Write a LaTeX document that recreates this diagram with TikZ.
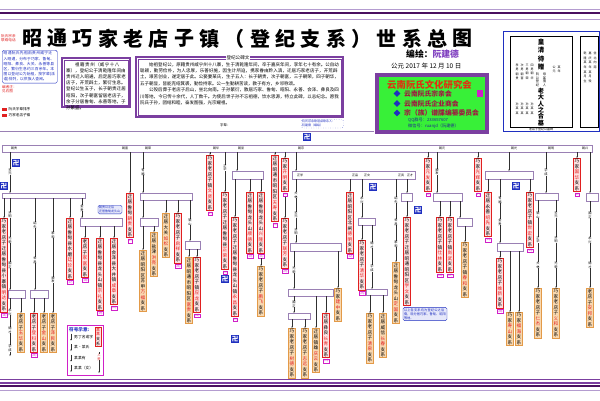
\documentclass[tikz,border=0pt]{standalone}
\usepackage{fontspec}
\setmainfont{Noto Sans CJK SC}
\usetikzlibrary{arrows.meta,shapes.geometric}
\XeTeXlinebreaklocale "zh"
\XeTeXlinebreakskip=0pt plus 0.6pt
\definecolor{dpur}{HTML}{4A1060}
\definecolor{purc}{HTML}{7B3FA0}
\definecolor{lavc}{HTML}{B49CD0}
\definecolor{barc}{HTML}{9A80B4}
\definecolor{redc}{HTML}{E02020}
\definecolor{pinkc}{HTML}{FDE0E0}
\definecolor{tanc}{HTML}{E39A48}
\definecolor{tanf}{HTML}{F8D8B0}
\definecolor{magc}{HTML}{D020C8}
\definecolor{linec}{HTML}{303030}
\definecolor{bluec}{HTML}{1F2FC0}
\definecolor{navc}{HTML}{202A8C}
\definecolor{greenc}{HTML}{38F038}
\definecolor{authc}{HTML}{8040C0}
\definecolor{itemc}{HTML}{A01840}
\definecolor{headc}{HTML}{E03010}
\definecolor{lblue}{HTML}{E6E8FA}
\tikzset{
  bar/.style={draw=barc, fill=white, line width=0.5pt},
  rb/.style={draw=redc, fill=pinkc, line width=0.8pt, text width=4.7pt, align=center,
    inner sep=0.9pt, font=\fontsize{4.6}{5.5}\selectfont, anchor=north},
  tb/.style={rb, draw=tanc, fill=tanf},
  lb/.style={draw=magc, text=magc, font=\fontsize{3}{3.2}\selectfont, inner sep=0.4pt, anchor=north},
  ln/.style={draw=linec, line width=0.4pt, -{Stealth[length=1.6pt,width=1.4pt]}},
  gl/.style={fill=white, inner sep=0.2pt, font=\fontsize{3.2}{3.6}\selectfont, text width=3.4pt, align=center},
  bt/.style={inner sep=0, font=\fontsize{3}{3}\selectfont},
  bsqs/.style={fill=bluec, text=white, font=\fontsize{6.5}{6.5}\selectfont\bfseries, minimum size=8pt, inner sep=0},
  bbox/.style={draw=bluec, fill=lblue, rounded corners=1.5pt, text=bluec, inner sep=1pt, align=left}
}
\newcommand\rname[1]{\allowbreak\textcolor{redc}{#1}\allowbreak}
\newcommand\zx[2]{#1\rname{#2}支系}
\newcommand\rbx[5]{\node[rb] (#1) at (#2,#3) {#4};\node[lb] (#1l) at ([yshift=-0.5pt]#1.south) {#5};}
\newcommand\tbx[4]{\node[tb] (#1) at (#2,#3) {#4};}
\newcommand\barx[4]{\draw[bar] (#1,#2) rectangle (#3,#4);}
\newcommand\gen[3]{\node[gl] at (#1,#2) {#3};}
\newcommand\conn[3]{\draw[ln] (#1,#2) -- (#3.north);}
\newcommand\vseg[3]{\draw[ln] (#1,#2) -- (#1,#3);}
\newcommand\bsq[2]{\node[bsqs] at (#1,#2) {卍};}
\newcommand\vtext[6]{\node[inner sep=0, anchor=north, text width=#4, align=center, font=\fontsize{#3}{#5}\selectfont, #6] at (#1) {#2};}
\begin{document}
\begin{tikzpicture}[x=1pt,y=-1pt]
\fill[white] (0,0) rectangle (600,400);
\useasboundingbox (0,0) rectangle (600,400);
% borders
\draw[lavc, line width=0.6pt] (0,9) -- (600,9);
\draw[dpur, line width=2.2pt] (0,13) -- (600,13);
\draw[lavc, line width=0.5pt] (0,19.5) -- (600,19.5);
\draw[purc, line width=0.6pt] (0,379) -- (600,379);
\draw[purc, line width=1.4pt] (0,383) -- (600,383);
\draw[dpur, line width=1.8pt] (0,386) -- (600,386);
\draw[lavc, line width=0.5pt] (0,390) -- (600,390);
\draw[barc, line width=0.5pt] (0,131) -- (374,131);
% title
\foreach \c [count=\i from 0] in {昭,通,巧,家,老,店,子,镇,（,登,纪,支,系,）,世,系,总,图}
  \node[inner sep=0, font=\fontsize{20}{20}\selectfont\bfseries] (t\i) at (32+\i*25.35,38.5) {\c};
\node[anchor=west, inner sep=0, font=\fontsize{8.8}{9}\selectfont\bfseries] (auth) at (406,54) {编绘：\textcolor{authc}{阮建德}};
\node[anchor=west, inner sep=0, font=\fontsize{6.5}{7}\selectfont] (date) at (391,66.5) {公元 2017 年 12 月 10 日};
% top-left notes
\node[anchor=north west, inner sep=0, text=redc, font=\fontsize{3.6}{4.6}\selectfont, align=left] (tl1) at (1,34) {阮氏宗亲\\联络电话};
\node[bbox, fill=white, anchor=north west, text width=52pt, font=\fontsize{3.8}{5.2}\selectfont, inner sep=1.5pt] (lbox) at (2,50) {昭通阮氏先祖由贵州威宁迁入昭通，分布于巧家、鲁甸、昭阳、彝良、大关、永善等县区，繁衍生息约三百余年。本图以登纪公为始祖，按字辈(派语)排列，以供族人查阅。};
\node[anchor=north west, inner sep=0, text=redc, font=\fontsize{3.6}{4.6}\selectfont, align=left] (tl2) at (2,85) {编者注：\\见右图};
\fill[redc] (2,107.5) rectangle (7,110.5);
\node[anchor=west, inner sep=0, font=\fontsize{3.6}{4}\selectfont] (lg1) at (8.5,109) {阮氏字辈排序};
\fill[redc] (2,113.5) rectangle (7,116.5);
\node[anchor=west, inner sep=0, font=\fontsize{3.6}{4}\selectfont] (lg2) at (8.5,115) {巧家老店子镇};
% text box 1
\draw[purc, line width=1.1pt] (62,58) rectangle (130,107);
\draw[purc, line width=0.3pt] (64,60) rectangle (128,105);
\node[anchor=north west, inner sep=0, text width=61pt, font=\fontsize{4.5}{6.2}\selectfont] (tx1) at (66,62) {\hspace{2em}祖籍贵州（威宁十八寨），登纪公于清乾隆年间由贵州迁入昭通，后定居巧家老店子，开荒辟土，繁衍生息。登纪公生五子，长子朝贵迁居昭阳，次子朝富留居老店子，余子分居鲁甸、永善等地，子孙繁盛。};
% text box 2
\draw[purc, line width=1.1pt] (136,57) rectangle (343,117);
\draw[purc, line width=0.3pt] (138,59) rectangle (341,115);
\node[fill=white, inner sep=0.6pt, font=\fontsize{4.6}{5}\selectfont] (bwt) at (238,57.5) {登纪公碑文};
\node[anchor=north west, inner sep=0, text width=199pt, font=\fontsize{4.5}{6.4}\selectfont] (tx2) at (140,62) {\hspace{2em}始祖登纪公，原籍贵州威宁州十八寨，生于清乾隆年间，卒于嘉庆年间，享年七十有余。公自幼聪颖，勤劳俭朴，为人忠厚，乐善好施，因生计所迫，携家眷由黔入滇，迁居巧家老店子，开荒辟土，艰苦创业，遂定居于此。公娶妻某氏，生子五人：长子朝贵，次子朝富，三子朝荣，四子朝华，五子朝显，皆能克绍箕裘，勤俭持家。公一生勤耕苦读，教子有方，乡邻称颂。\par\hspace{2em}公殁后葬于老店子后山，坐北向南。子孙繁衍，散居巧家、鲁甸、昭阳、永善、会泽、彝良及四川等地，今已传十余代，人丁数千。为使后世子孙不忘祖德，饮水思源，特立此碑，以志纪念。愿我阮氏子孙，团结和睦，奋发图强，光宗耀祖。};
\node[anchor=west, inner sep=0, font=\fontsize{3.4}{4}\selectfont] (zb) at (220,125) {字辈：};
\node[bbox, fill=white, dotted, anchor=north west, text width=40pt, font=\fontsize{3}{4}\selectfont] (qbox) at (301,119) {阮氏宗亲联谊会联系人：\\阮建德（编绘）};
% green box
\fill[purc] (375,73) rectangle (489,134);
\fill[greenc] (379,77) rectangle (485,130);
\node[inner sep=0, text=headc, font=\fontsize{9.4}{10}\selectfont\bfseries] (gh) at (429.5,85) {云南阮氏文化研究会};
\foreach \yy/\tt [count=\k] in {93.5/云南阮氏宗亲会,103.5/云南阮氏企业商会,113/宗（族）谱牒编纂委员会}{
  \node[diamond, fill=bluec, inner sep=1.7pt] (gd\k) at (397,\yy) {};
  \node[anchor=west, inner sep=0, text=itemc, font=\fontsize{6.8}{7}\selectfont\bfseries] (gi\k) at (404,\yy) {\tt};}
\node[anchor=west, inner sep=0, text=navc, font=\fontsize{4.2}{4.5}\selectfont] (qq) at (408,120.5) {QQ群号：233657607};
\node[anchor=west, inner sep=0, text=navc, font=\fontsize{4.2}{4.5}\selectfont] (wx) at (408,126.3) {微信号：ruanjd（阮建德）};
\fill[magc] (477,90) rectangle (483,97);
% right box
\draw[bluec, line width=0.9pt] (503,31) rectangle (599,131);
\draw[black, line width=0.4pt] (510,36) rectangle (572,127);
\draw[black, line width=0.4pt] (580,36) rectangle (598.3,127);
\vtext{541,39}{\bfseries 皇清待赠}{6.5}{6.8pt}{8.2}{}
\vtext{537.5,73}{阮公登纪}{3.2}{3.4pt}{3.6}{}
\vtext{544.5,73}{母某孺人}{3.2}{3.4pt}{3.6}{}
\vtext{541,88}{\bfseries 老大人之合墓}{6.2}{6.5pt}{6.3}{}
\foreach \xx/\tt in {517/孝男朝贵,522/次男朝富,527/三男朝荣,532/四男朝华}{\vtext{\xx,64}{\tt}{3}{3.2pt}{4.2}{}}
\foreach \xx/\tt in {517/孙某某,522/孙某某,527/孙某某,532/孙某某}{\vtext{\xx,103}{\tt}{3}{3.2pt}{4.2}{}}
\foreach \xx/\tt in {554/公元,559/某年}{\vtext{\xx,66}{\tt}{3}{3.2pt}{4.2}{}}
\foreach \xx/\tt in {585/乾隆某年某月生,590/嘉庆某年某月殁,595/坐北向南}{\vtext{\xx,52}{\tt}{3}{3.2pt}{4.6}{}}
\node[inner sep=0, font=\fontsize{3}{3}\selectfont] (mb) at (541,129.3) {老店子登纪公墓碑};
% ================= tree =================
\barx{2}{145}{592}{152}
\barx{232}{171}{263}{179}
\barx{292}{171}{415}{179}
\barx{485}{171}{533}{179}
\barx{2}{193}{85}{198}
\barx{140}{193}{192}{200}
\barx{80}{218}{122}{226}
\barx{140}{218}{158}{226}
\barx{185}{241}{200}{249}
\barx{8}{290}{25}{298}
\barx{30}{290}{48}{298}
\barx{290}{243}{341}{251}
\barx{358}{218}{375}{225}
\barx{401}{193}{412}{201}
\barx{433}{193}{462}{201}
\barx{457}{218}{472}{226}
\barx{535}{193}{558}{200}
\barx{497}{243}{523}{251}
\barx{586}{193}{598}{201}
\barx{288}{289}{333}{296}
\barx{288}{313}{310}{319}
\barx{366}{289}{387}{295}
\foreach \xx/\tt in {14/朝贵,125/朝富,148/朝荣,216/朝华,241/朝显,301/朝宗,442/朝元,514/朝光,551/朝明,585/朝兴}{\node[bt] at (\xx,148.5) {\tt};}
\foreach \xx/\tt in {300/正学,355/正品,367/正文,401/正武,410/正才}{\node[bt] at (\xx,175) {\tt};}
% drops from top bar
\vseg{10}{152}{193}
\bsq{16}{163}
\bsq{4}{186}
\rbx{r01}{130}{193}{\zx{迁居鲁甸}{朝贵}}{(1)}\conn{130}{152}{r01}
\vseg{143}{152}{193}
\rbx{r02}{210}{155}{\zx{巧家老店子镇}{文贤}}{(2)}\conn{210}{152}{r02}
\rbx{r03}{225}{192}{\zx{巧家老店子迁居鲁甸县}{正荣}}{(3)}\conn{225}{152}{r03}
\bsq{225}{279}
\vseg{237}{152}{171}
\rbx{r04}{275}{155}{\zx{迁居昭通市昭阳区}{天寿}}{(4)}\conn{275}{152}{r04}
\rbx{r05}{285}{158}{\zx{巧家}{开明}}{(5)}\conn{285}{152}{r05}
\rbx{r29}{285}{218}{\zx{巧家老店子}{联芳}}{(29)}\draw[ln] (r05l.south) -- (r29.north);
\vseg{296}{152}{171}
\rbx{r06}{428}{158}{\zx{巧家}{元发}}{(6)}\conn{428}{152}{r06}
\rbx{r07}{478}{158}{\zx{巧家}{光辉}}{(7)}\conn{478}{152}{r07}
\rbx{r08}{577}{158}{\zx{巧家}{国华}}{(8)}\conn{577}{152}{r08}
\vseg{437}{152}{193}
\vseg{509}{152}{171}
\vseg{546}{152}{193}
\vseg{590}{152}{193}
\bsq{307}{137}
% B3
\rbx{r09}{235}{217}{\zx{巧家老店子迁居鲁甸县龙头山镇}{永昌}}{(9)}\conn{235}{179}{r09}
\bsq{235}{339}
\rbx{r10}{250}{192}{\zx{迁居鲁甸龙头山}{顺德}}{(10)}\conn{250}{179}{r10}
\rbx{r11}{261}{192}{\zx{迁居鲁甸龙头山}{兴隆}}{(11)}\conn{261}{179}{r11}
\tbx{t10}{261}{266}{\zx{巧家老店子}{鹏飞}}\draw[ln] (r11l.south) -- (t10.north);
% B1
\vseg{296}{179}{243}
\rbx{r12}{350}{192}{\zx{迁居昭阳区北闸}{德明}}{(12)}\conn{350}{179}{r12}
\vseg{362}{179}{218}
\bsq{373}{187}
\tbx{t01}{396}{262}{\zx{迁居鲁甸龙头山}{定国}}\conn{396}{179}{t01}
\vseg{407}{179}{193}
\rbx{r13}{407}{217}{\zx{巧家老店子迁居昭通昭阳区}{学文}}{(13)}\conn{407}{201}{r13}
\bsq{418}{210}
% B14, B15
\rbx{r26}{440}{217}{\zx{巧家老店子镇}{仕林}}{(26)}\conn{440}{201}{r26}
\rbx{r27}{450}{217}{\zx{巧家老店子镇}{尚武}}{(27)}\conn{450}{201}{r27}
\vseg{460}{201}{218}
\tbx{t17}{465}{242}{\zx{巧家老店子镇}{春和}}\conn{465}{226}{t17}
% B16
\rbx{r14}{488}{192}{\zx{迁居永善}{绍先}}{(14)}\conn{488}{179}{r14}
\vseg{500}{179}{243}
\bsq{516}{186}
\rbx{r15}{530}{192}{\zx{巧家老店子镇}{世宏}}{(15)}\conn{530}{179}{r15}
% B17, B18, B19
\tbx{t20}{538}{288}{\zx{巧家老店子}{仁杰}}\conn{538}{200}{t20}
\tbx{t21}{556}{288}{\zx{巧家老店子}{义和}}\conn{556}{200}{t21}
\rbx{r28}{500}{258}{\zx{巧家老店子}{维新}}{(28)}\conn{500}{251}{r28}
\tbx{t18}{510}{312}{\zx{巧家}{寿山}}\conn{510}{251}{t18}
\tbx{t19}{519}{312}{\zx{巧家}{福海}}\conn{519}{251}{t19}
\tbx{t02}{590}{288}{\zx{老店子}{安邦}}\conn{590}{201}{t02}
% B4
\rbx{r16}{4}{218}{\zx{巧家老店子迁居鲁甸县小寨镇}{明达}}{(16)}\conn{4}{198}{r16}
\vseg{10}{198}{290}
\vseg{35}{198}{290}
\tbx{t03}{53}{313}{\zx{老店子}{泽民}}\conn{53}{198}{t03}
\rbx{r17}{70}{218}{\zx{迁居鲁甸县水磨}{廷珍}}{(17)}\conn{70}{198}{r17}
\vseg{82}{198}{218}
\node[bbox, text width=22pt, font=\fontsize{3}{3.8}\selectfont] (bb1) at (110,209.5) {朝贵公之后\\迁居鲁甸龙头山};
% B6
\rbx{r18}{85}{238}{\zx{老店子}{家富}}{(18)}\conn{85}{226}{r18}
\rbx{r19}{100}{238}{\zx{迁居鲁甸县龙头山镇}{宗礼}}{(19)}\conn{100}{226}{r19}
\rbx{r20}{114}{238}{\zx{迁居会泽县大井镇}{成章}}{(20)}\conn{114}{226}{r20}
% B5
\vseg{143}{200}{218}
\tbx{t04}{166}{213}{\zx{迁居大关}{如松}}\conn{166}{200}{t04}
\rbx{r21}{178}{213}{\zx{巧家老店子}{启祥}}{(21)}\conn{178}{200}{r21}
\vseg{190}{200}{241}
\tbx{t05}{143}{250}{\zx{迁居昭阳区苏甲}{万福}}\conn{143}{226}{t05}
\tbx{t06}{154}{232}{\zx{迁居盐津}{洪亮}}\conn{154}{226}{t06}
\tbx{t07}{189}{257}{\zx{迁居昭通市昭阳区}{富贵}}\conn{189}{249}{t07}
\rbx{r22}{197}{257}{\zx{巧家老店子镇}{应龙}}{(22)}\conn{197}{249}{r22}
% B9, B10
\vseg{10}{298}{356}
\tbx{t08}{21}{313}{\zx{老店子}{玉华}}\conn{21}{298}{t08}
\rbx{r23}{34}{313}{\zx{老店子}{登科}}{(23)}\conn{34}{298}{r23}
\tbx{t09}{44}{313}{\zx{老店子}{金山}}\conn{44}{298}{t09}
% B11, B20, B21
\vseg{294}{251}{289}
\tbx{t11}{338}{288}{\zx{巧家}{建中}}\conn{338}{251}{t11}
\vseg{294}{296}{313}
\tbx{t14}{316}{328}{\zx{迁居镇雄}{庆云}}\conn{316}{296}{t14}
\rbx{r24}{326}{313}{\zx{迁居彝良}{长青}}{(24)}\conn{326}{296}{r24}
\tbx{t12}{292}{328}{\zx{巧家老店子}{树德}}\conn{292}{319}{t12}
\tbx{t13}{305}{328}{\zx{巧家老店子}{志远}}\conn{305}{319}{t13}
% B12, B22
\rbx{r25}{362}{240}{\zx{巧家老店子}{清华}}{(25)}\conn{362}{225}{r25}
\vseg{372}{225}{289}
\tbx{t15}{370}{313}{\zx{巧家老店子}{清泉}}\conn{370}{295}{t15}
\tbx{t16}{383}{313}{\zx{迁居威信}{长春}}\conn{383}{295}{t16}
\node[bbox, text width=42pt, font=\fontsize{3.2}{4.2}\selectfont] (bb2) at (425,314) {以上各支系均为登纪公之后裔，现分居巧家、鲁甸、昭阳等地。};
% generation labels on lines
\foreach \xx/\yy/\tt in {10/172/天元,10/215/开明,10/240/光荣,10/265/国正,10/312/永兴,10/330/德才,10/348/学成,
  35/225/绍先,35/260/世昌,53/235/家和,53/280/顺发,143/172/有福,82/208/金贵,190/222/银山,
  225/168/正华,296/195/大林,296/215/天元,296/232/开明,294/270/光荣,294/304/国正,
  362/200/永兴,372/245/德才,372/268/学成,396/200/绍先,396/222/世昌,396/244/家和,
  437/172/顺发,500/200/有福,500/222/金贵,538/215/银山,538/240/正华,538/265/大林,
  556/215/天元,556/240/开明,556/265/光荣,590/215/国正,590/240/永兴,590/265/德才,546/172/学成}
  {\gen{\xx}{\yy}{\tt}}
% legend box
\draw[magc, line width=0.9pt] (67,325) rectangle (103,375);
\node[anchor=west, inner sep=0, text=bluec, font=\fontsize{4.6}{5}\selectfont\bfseries] (fh) at (69,330) {符号示意:};
\node[rb, font=\fontsize{4}{4.8}\selectfont, text width=4.1pt] (lgr) at (98,326.5) {\zx{}{某某}};
\foreach \yy/\tt [count=\k] in {337/男丁名或字,347.5/某·某氏,358/某某有,368.5/某某（女）}{
  \draw[ln] (71,\yy-3.5) -- (71,\yy+3.5);
  \node[anchor=west, inner sep=0, font=\fontsize{3.8}{4}\selectfont] (lr\k) at (74,\yy) {\tt};}
\draw[ln] (99,352) -- (99,373);
\node[gl, text=redc] (rz) at (99,357) {入赘};
\end{tikzpicture}
\end{document}
